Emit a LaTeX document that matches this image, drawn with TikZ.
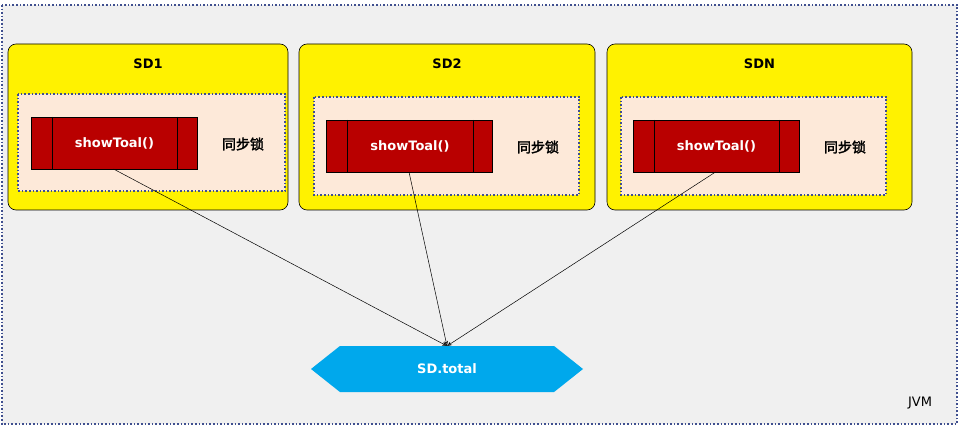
\documentclass[tikz,border=0pt]{standalone}
\usepackage{fontspec}
\setmainfont{DejaVu Sans}
\newfontfamily\cjk[AutoFakeSlant=0.2,AutoFakeBold=2]{Noto Sans CJK SC}
\usetikzlibrary{shapes.symbols,arrows.meta}
\definecolor{dotb}{HTML}{3F4F8F}
\definecolor{peach}{HTML}{FDE9D9}
\definecolor{redb}{HTML}{B90000}
\definecolor{cyanb}{HTML}{00A8EC}
\begin{document}
\begin{tikzpicture}[x=1pt,y=-1pt,
 sd/.style={draw=black,fill=yellow,rounded corners=8pt,line width=0.6pt},
 inner/.style={draw=dotb,fill=peach,dotted,line width=1.6pt},
 proc/.style={draw=black,fill=redb,line width=0.6pt},
 ttl/.style={font=\bfseries\fontsize{13}{15}\selectfont},
 lock/.style={font=\cjk\bfseries\fontsize{14}{16}\selectfont},
 wt/.style={text=white,font=\bfseries\fontsize{13}{15}\selectfont},
 conn/.style={-{Stealth[length=5pt,width=4pt,open]},line width=0.5pt}]
\useasboundingbox (0,0) rectangle (960,430);
\draw[fill={rgb,255:red,240;green,240;blue,240},draw=dotb,dotted,line width=1.6pt] (2,5) rectangle (957,424);
\node[font=\fontsize{13}{15}\selectfont] (jvm) at (920,403) {JVM};
% boxes
\foreach \n/\xa/\ya/\xb/\yb/\t in {1/8/44/288/210/SD1, 2/299/44/595/210/SD2, 3/607/44/912/210/SDN}{
 \draw[sd] (\xa,\ya) rectangle (\xb,\yb);
 \node[ttl] (t\n) at ({(\xa+\xb)/2},64) {\t};
}
\draw[inner] (18,94) rectangle (285,191);
\draw[inner] (314,97) rectangle (579,195);
\draw[inner] (621,97) rectangle (886,195);
\foreach \n/\xa/\ya/\la/\lb/\lx in {1/31/117/52/177/243, 2/326/120/347/473/538, 3/633/120/654/779/845}{
 \draw[proc] (\xa,\ya) rectangle ++(166,52);
 \draw (\la,\ya) -- ++(0,52) (\lb,\ya) -- ++(0,52);
 \node[wt] (p\n) at ({(\la+\lb)/2},\ya+26) {showToal()};
 \coordinate (s\n) at ({(\la+\lb)/2 - 1},\ya+52);
 \node[lock] (l\n) at (\lx,\ya+27) {同步锁};
}
\node[signal,signal to=west and east,signal pointer angle=77,fill=cyanb,minimum width=272pt,minimum height=46pt,inner sep=0pt,wt] (total) at (447,369) {SD.total};
\coordinate (tt) at (447,346);
\foreach \n in {1,2,3} \draw[conn] (s\n) -- (tt);
\end{tikzpicture}
\end{document}
